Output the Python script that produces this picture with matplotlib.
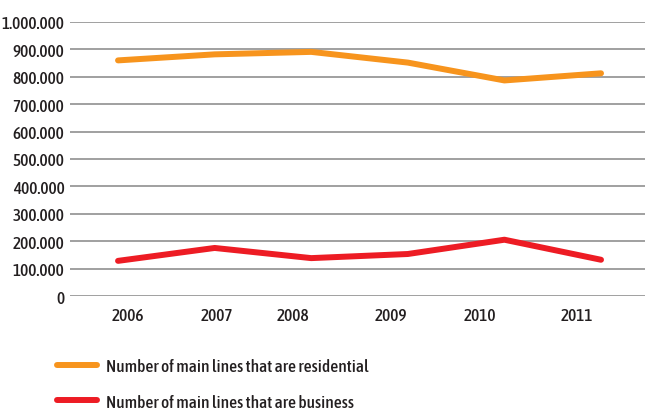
import matplotlib.pyplot as plt
from matplotlib.lines import Line2D

years = ['2006', '2007', '2008', '2009', '2010', '2011']
residential = [859000, 881000, 890000, 851000, 786000, 812000]
business = [129000, 176000, 139000, 154000, 206000, 133000]
y_ticks = [0, 100000, 200000, 300000, 400000, 500000, 600000, 700000, 800000, 900000, 1000000]
y_labels = ['0', '100.000', '200.000', '300.000', '400.000', '500.000',
            '600.000', '700.000', '800.000', '900.000', '1.000.000']
# the year labels sit a bit off the data points in the original
label_pos = [0.10, 1.02, 1.81, 2.82, 3.75, 4.75]

orange = '#F7941D'
red = '#ED1C24'
plt.rcParams['font.family'] = ['Asap Condensed', 'DejaVu Sans']
plt.rcParams['font.weight'] = 'medium'

fig = plt.figure(figsize=(6.46, 4.10), dpi=100)
ax = fig.add_axes([0.1084, 0.2749, 0.890, 0.6698])

x = range(len(years))
ax.plot(x, residential, color=orange, lw=4.3, solid_capstyle='round')
ax.plot(x, business, color=red, lw=4.3, solid_capstyle='round')

ax.set_ylim(0, 1000000)
ax.set_xlim(-0.497, 5.455)
ax.set_yticks(y_ticks)
ax.set_yticklabels(y_labels, fontsize=12.5, color='#231f20')
ax.set_xticks(label_pos)
ax.set_xticklabels(years, fontsize=12.5, color='#231f20')
ax.tick_params(length=0, pad=4)
ax.tick_params(axis='x', pad=8)
ax.grid(axis='y', color='#999999', lw=1.3)
ax.set_axisbelow(True)
for s in ax.spines.values():
    s.set_visible(False)

handles = [Line2D([], [], color=orange, lw=4.3, solid_capstyle='round'),
           Line2D([], [], color=red, lw=4.3, solid_capstyle='round')]
fig.legend(handles, ['Number of main lines that are residential',
                     'Number of main lines that are business'],
           loc='center left', bbox_to_anchor=(57 / 646, 0.060), frameon=False,
           fontsize=12.5, handlelength=2.3, handletextpad=0.55, labelspacing=1.05,
           borderpad=0, borderaxespad=0, labelcolor='#231f20')

fig.savefig('out.png', dpi=100)
